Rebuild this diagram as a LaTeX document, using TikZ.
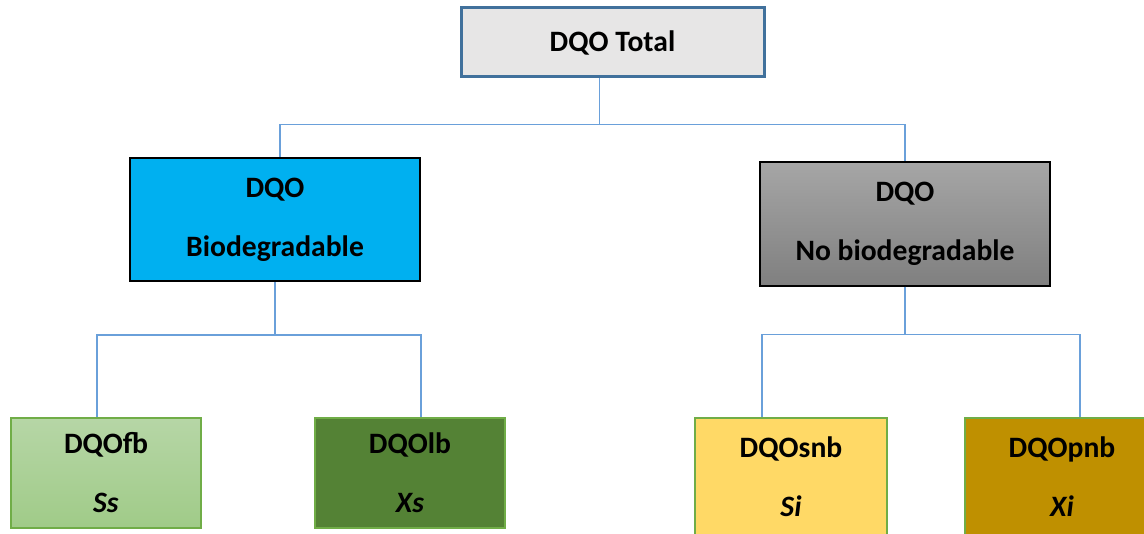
\documentclass[tikz,border=0pt]{standalone}
\usepackage{fontspec}
\setmainfont{Carlito}
\usepackage{xcolor}
\usepackage{tikz}
\usetikzlibrary{calc,positioning}
\definecolor{lineblue}{RGB}{106,160,218}
\definecolor{totalfill}{RGB}{231,230,230}
\definecolor{totaldraw}{RGB}{65,113,156}
\definecolor{biofill}{RGB}{0,176,240}
\definecolor{boxgreen}{RGB}{112,173,71}
\definecolor{darkgreen}{RGB}{84,130,53}
\definecolor{lightgold}{RGB}{255,217,102}
\definecolor{darkgold}{RGB}{191,144,0}
\tikzset{
    conn/.style={draw=lineblue, line width=0.75pt},
    box/.style={
        rectangle,
        align=center,
        inner sep=0pt,
        font={\fontsize{14.8pt}{29.5pt}\selectfont\bfseries}
    },
    midbox/.style={
        box,
        draw=black, line width=1pt,
        minimum width=145pt,
        minimum height=61.5pt
    },
    leafbox/.style={
        box,
        draw=boxgreen, line width=0.75pt,
        minimum width=95pt
    },
}

\begin{document}
\begin{tikzpicture}
    [
        x=0.5pt, y=-0.5pt,
        topbox/.style={box, fill=totalfill, draw=totaldraw, line width=1.5pt,
            minimum width=151.5pt, minimum height=34.5pt},
    ]
    \useasboundingbox (0,0) rectangle (1144,534);

    \node(total)[topbox] at (612.5,42.5) {DQO Total};
    \node(bio)[midbox, fill=biofill] at (275,219.5) {DQO\\Biodegradable};
    \node(nobio)[midbox, top color=black!35, bottom color=black!50] at (905,224) {DQO\\No biodegradable};

    \node(fb)[leafbox, minimum height=55pt, top color={rgb,255:red,182;green,214;blue,166},
        bottom color={rgb,255:red,160;green,203;blue,136}] at (106,473) {DQOfb\\\textit{Ss}};
    \node(lb)[leafbox, minimum height=55pt, fill=darkgreen] at (410,473) {DQOlb\\\textit{Xs}};
    \node(snb)[leafbox, minimum height=59pt, fill=lightgold, minimum width=96pt] at (791,477) {DQOsnb\\\textit{Si}};
    \node(pnb)[leafbox, minimum height=59pt, fill=darkgold, minimum width=97pt] at (1062,477) {DQOpnb\\\textit{Xi}};

    \draw[conn] ($(total.south)+(-13,0)$) -- ++(0,46) coordinate (jt);
    \draw[conn] ($(bio.north)+(5,0)$) |- (jt) -| (nobio.north);
    \draw[conn] (bio.south) -- ++(0,53) coordinate (jb);
    \draw[conn] ($(fb.north)+(-9,0)$) |- (jb) -| ($(lb.north)+(11,0)$);
    \draw[conn] (nobio.south) -- ++(0,48) coordinate (jn);
    \draw[conn] ($(snb.north)+(-29,0)$) |- (jn) -| ($(pnb.north)+(18,0)$);
\end{tikzpicture}
\end{document}
